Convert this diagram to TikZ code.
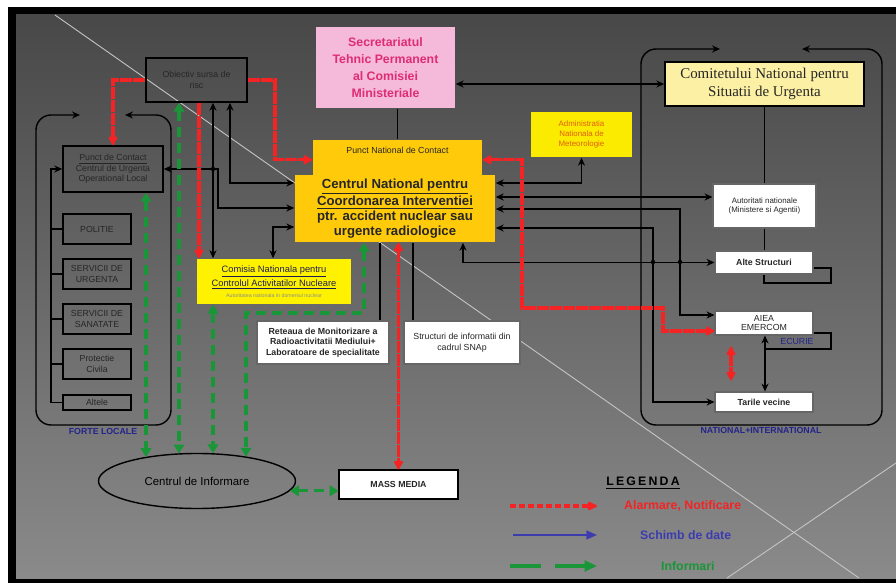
\documentclass[tikz,border=0pt]{standalone}
\usepackage{fontspec}
\setmainfont{Liberation Sans}
\newfontfamily\serifdiag{Liberation Serif}
\usepackage{tikz}
\usetikzlibrary{arrows.meta}
\usetikzlibrary{positioning}
\usetikzlibrary{shapes.geometric}
\usetikzlibrary{calc}
\newcommand{\diagsize}[2]{\fontsize{#1}{#2}\selectfont}
\definecolor{alarmred}{RGB}{245,35,35}
\definecolor{infogreen}{RGB}{25,150,55}
\definecolor{datablue}{RGB}{60,60,175}
\definecolor{navytext}{RGB}{35,35,140}
\definecolor{pinkfill}{RGB}{245,185,218}
\definecolor{pinktext}{RGB}{222,45,115}
\definecolor{goldfill}{RGB}{255,202,10}
\definecolor{yellowfill}{RGB}{250,235,0}
\definecolor{paleyellow}{RGB}{252,240,165}
\definecolor{admtext}{RGB}{225,95,20}
\definecolor{cnatext}{RGB}{30,30,80}
\definecolor{bgtop}{RGB}{72,72,72}
\definecolor{bgbottom}{RGB}{138,138,138}
\tikzset{
	>={Stealth[length=4.5pt,width=4pt]},
	box/.style={draw=black, line width=0.9pt, align=center, inner sep=1pt, text=black!85},
	graybox/.style={box, font=\diagsize{5pt}{6pt}},
	whitebox/.style={box, fill=white, draw=black!60, line width=0.6pt, font=\bfseries\diagsize{5pt}{6pt}},
	goldbox/.style={box, fill=goldfill, draw=none},
	link/.style={draw=black, line width=0.8pt},
	linkboth/.style={link, <->},
	alarm/.style={draw=alarmred, line width=1.9pt, dash pattern=on 2.4mm off 0.2mm,
		arrows={Latex[round,length=6pt,width=6.5pt]-Latex[round,length=6pt,width=6.5pt]}},
	alarmone/.style={alarm, arrows={-Latex[round,length=6pt,width=6.5pt]}},
	informare/.style={draw=infogreen, line width=1.8pt, dash pattern=on 2mm off 1.2mm,
		arrows={Triangle[length=5pt,width=6pt]-Triangle[length=5pt,width=6pt]}},
	schimb/.style={draw=datablue, line width=0.9pt, arrows={-Triangle[length=6pt,width=5pt]}},
	junction/.style={circle, fill=black, inner sep=0pt, minimum size=2.5pt},
	frame/.style={draw=black, line width=0.8pt, rounded corners=3mm},
	legendtext/.style={anchor=west, font=\bfseries\diagsize{7pt}{8pt}},
}

\begin{document}
\begin{tikzpicture}[x=0.2mm, y=-0.2mm]
\useasboundingbox (0,0) rectangle (896,583);
\fill[white] (0,0) rectangle (896,583);
\fill[black] (8,7) rectangle (896,583);
\shade[top color=bgtop, bottom color=bgbottom] (16,15) rectangle (896,578);
\draw[white!55!gray, line width=0.5pt] (55,15) -- (859,578);
\draw[white!55!gray, line width=0.5pt] (896,463) -- (727,578);

% groups
\draw[frame, <->] (80,115) -| (36,425) -| (171,115) -- (125,115);
\draw[frame, <->] (720,49) -| (641,425) -| (882,49) -- (802,49);
\node[text=navytext, font=\bfseries\diagsize{5pt}{6pt}] (forte) at (103,431) {FORTE LOCALE};
\node[text=navytext, font=\bfseries\diagsize{5pt}{6pt}] (natint) at (761,430) {NATIONAL+INTERNATIONAL};

% nodes
\node[box, fill=pinkfill, draw=none, text=pinktext, font=\bfseries\diagsize{7pt}{9.6pt},
	minimum width=27.8mm, minimum height=16.2mm] (sec) at (385.5,67.5)
	{Secretariatul\\Tehnic Permanent\\al Comisiei\\Ministeriale};
\node[graybox, minimum width=20.2mm, minimum height=8.8mm] (obj) at (196.5,80) {Obiectiv sursa de\\risc};
\node[box, fill=paleyellow, font=\serifdiag\diagsize{8.5pt}{10.5pt},
	minimum width=39.8mm, minimum height=8.8mm] (com) at (764.5,84)
	{Comitetului National pentru\\Situatii de Urgenta};
\node[goldbox, font=\diagsize{5pt}{6pt}, minimum width=33.8mm, text height=2mm, text depth=4.6mm,
	inner ysep=0.7mm, anchor=north] (pnc) at (397.5,139) {Punct National de Contact};
\node[goldbox, font=\bfseries\diagsize{7.5pt}{8.4pt}, minimum width=40mm, minimum height=13.4mm] (ctr) at (395,208.5)
	{\underline{Centrul National pentru}\\\underline{Coordonarea Interventiei}\\ptr. accident nuclear sau\\urgente radiologice};
\node[box, fill=yellowfill, draw=none, text=admtext, font=\diagsize{4.5pt}{5.5pt},
	minimum width=20.2mm, minimum height=9mm] (adm) at (581.5,134.5) {Administratia\\Nationala de\\Meteorologie};

\node[whitebox, font=\diagsize{4.5pt}{5.5pt}, minimum width=20.6mm, minimum height=8.8mm] (aut) at (764.5,206)
	{Autoritati nationale\\(Ministere si Agentii)};
\node[whitebox, minimum width=19.6mm, minimum height=4.6mm] (alte) at (764,262.5) {Alte Structuri};
\node[whitebox, font=\diagsize{5pt}{5.5pt}, minimum width=19.6mm, minimum height=4.8mm] (aiea) at (764,323) {AIEA\\EMERCOM};
\node[whitebox, minimum width=19.6mm, minimum height=4mm] (tari) at (764,402) {Tarile vecine};
\node[text=navytext, font=\diagsize{5pt}{6pt}] (ecurie) at (797,341) {ECURIE};

\node[graybox, minimum width=20mm, minimum height=9.2mm] (pcl) at (113,169)
	{\underline{Punct de Contact}\\Centrul de Urgenta\\Operational Local};
\node[graybox, minimum width=13.6mm, minimum height=6mm] (pol) at (97,229) {POLITIE};
\node[graybox, minimum width=13.6mm, minimum height=6mm] (urg) at (97,274) {SERVICII DE\\URGENTA};
\node[graybox, minimum width=13.6mm, minimum height=6mm] (san) at (97,319) {SERVICII DE\\SANATATE};
\node[graybox, minimum width=13.6mm, minimum height=6mm] (civ) at (97,364) {Protectie\\Civila};
\node[graybox, minimum width=13.6mm, minimum height=3mm] (alt) at (97,402.5) {Altele};

\node[box, fill=yellow, draw=none, text=cnatext, font=\diagsize{5.3pt}{6.4pt},
	minimum width=30.8mm, minimum height=9mm] (cna) at (274,281.5)
	{\underline{Comisia Nationala pentru}\\\underline{Controlul Activitatilor Nucleare}\\{\color{black!45}\diagsize{3pt}{3.6pt}Autoritatea nationala in domeniul nuclear}};
\node[whitebox, minimum width=26.4mm, minimum height=8.6mm] (ret) at (323,342.5)
	{Reteaua de Monitorizare a\\Radioactivitatii Mediului+\\Laboratoare de specialitate};
\node[whitebox, font=\diagsize{5pt}{6pt}, minimum width=23.2mm, minimum height=8.6mm] (str) at (462,342.5)
	{Structuri de informatii din\\cadrul SNAp};
\node[ellipse, draw=black, line width=0.8pt, inner sep=0pt, font=\diagsize{6.5pt}{8pt},
	minimum width=39.4mm, minimum height=11mm] (inf) at (197,481) {Centrul de Informare};
\node[whitebox, draw=black, minimum width=23.8mm, minimum height=5.8mm] (mass) at (398.5,484.5) {MASS MEDIA};

% black links
\draw[linkboth] (sec.east |- com.west) -- (com.west);
\draw[link] (pnc.north |- sec.south) -- (pnc.north);
\draw[link] (com.south) -- (com.south |- aut.north);
\draw[link] (aut.south) -- (aut.south |- alte.north);
\draw[linkboth] (230,0 |- obj.south) |- (ctr.west |- 0,183);
\draw[linkboth] (213,0 |- obj.south) -- (213,0 |- cna.north);
\draw[linkboth] (pcl.east) -| (218,208) -- (ctr.west |- 0,208);
\draw[linkboth] (273,0 |- cna.north) |- (ctr.west |- 0,227);
\draw[linkboth] (ctr.east |- 0,183) -| (adm.south);
\draw[linkboth] (ctr.east |- 0,197) -- (aut.west |- 0,197);
\draw[linkboth] (ctr.east |- 0,209) -| (680,315) -- (aiea.west |- 0,315);
\draw[linkboth] (ctr.east |- 0,228) -| (653,0 |- tari.west) -- (tari.west);
\draw[linkboth] (463,0 |- ctr.south) |- (alte.west);
\draw[link] (380,0 |- ctr.south) -- (380,0 |- ret.north);
\draw[link] (413,0 |- ctr.south) -- (413,0 |- str.north);
\draw[linkboth] (765,0 |- aiea.south) -- (765,0 |- tari.north);
\draw[link] (alte.east |- 0,268) -| (831,283) -| (alte.south);
\draw[link] (aiea.east |- 0,333) -| (831,349) -- (765,349);
\draw[link, ->] (alt.west) -| (51,0 |- pcl.west) -- (pcl.west);
\foreach \b in {pol,urg,san,civ}
	\draw[link] (\b.west) -- (51,0 |- \b.west);
\node[junction] (j1) at (213,169) {};
\node[junction] (j2) at (653,262) {};
\node[junction] (j3) at (680,262) {};
\node[junction] (j4) at (653,308) {};

% alarm
\draw[alarmone] (obj.west) -| (pcl.north);
\draw[alarmone] (obj.east) -| (275,0 |- pnc.west) -- (pnc.west);
\draw[alarmone] (199,0 |- obj.south) -- (199,0 |- cna.north);
\draw[alarm] (pnc.east) -| (522,308) -| (663,331) -- (aiea.west |- 0,331);
\draw[alarm] (ctr.south -| mass.north) -- (mass.north);
\draw[alarm, shorten <=2.2mm, shorten >=2.2mm] (731,0 |- aiea.south) -- (731,0 |- tari.north);

% informari
\draw[informare] (146,0 |- pcl.south) -- (146,0 |- inf.155);
\draw[informare] (179,0 |- obj.south) -- (179,0 |- inf.124);
\draw[informare] (213,0 |- cna.south) -- (213,0 |- inf.59);
\draw[informare] (364,0 |- ctr.south) |- (246,313) -- (246,0 |- inf.26);
\draw[informare] (inf.-6) -- (mass.west |- inf.-6);

% legend
\node[font=\bfseries\diagsize{7pt}{8pt}] (legenda) at (643,483) {\addfontfeatures{LetterSpace=18}\underline{LEGENDA}};
\coordinate (alarmA) at (510,506); \coordinate (alarmB) at (597,506);
\coordinate (schimbA) at (513,535); \coordinate (schimbB) at (597,535);
\coordinate (infoA) at (510,566); \coordinate (infoB) at (597,566);
\draw[alarm, dash pattern=on 1.2mm off 0.6mm, arrows={-Latex[round,length=7pt,width=6pt]}] (alarmA) -- (alarmB);
\draw[schimb] (schimbA) -- (schimbB);
\draw[informare, dash pattern=on 6.2mm off 2.8mm, arrows={-Triangle[length=7pt,width=6pt]}] (infoA) -- (infoB);
\node[legendtext, text=alarmred] (alarmtxt) at (618,506) {Alarmare, Notificare};
\node[legendtext, text=datablue] (schimbtxt) at (634,535) {Schimb de date};
\node[legendtext, text=infogreen] (infotxt) at (655,566) {Informari};
\end{tikzpicture}
\end{document}
